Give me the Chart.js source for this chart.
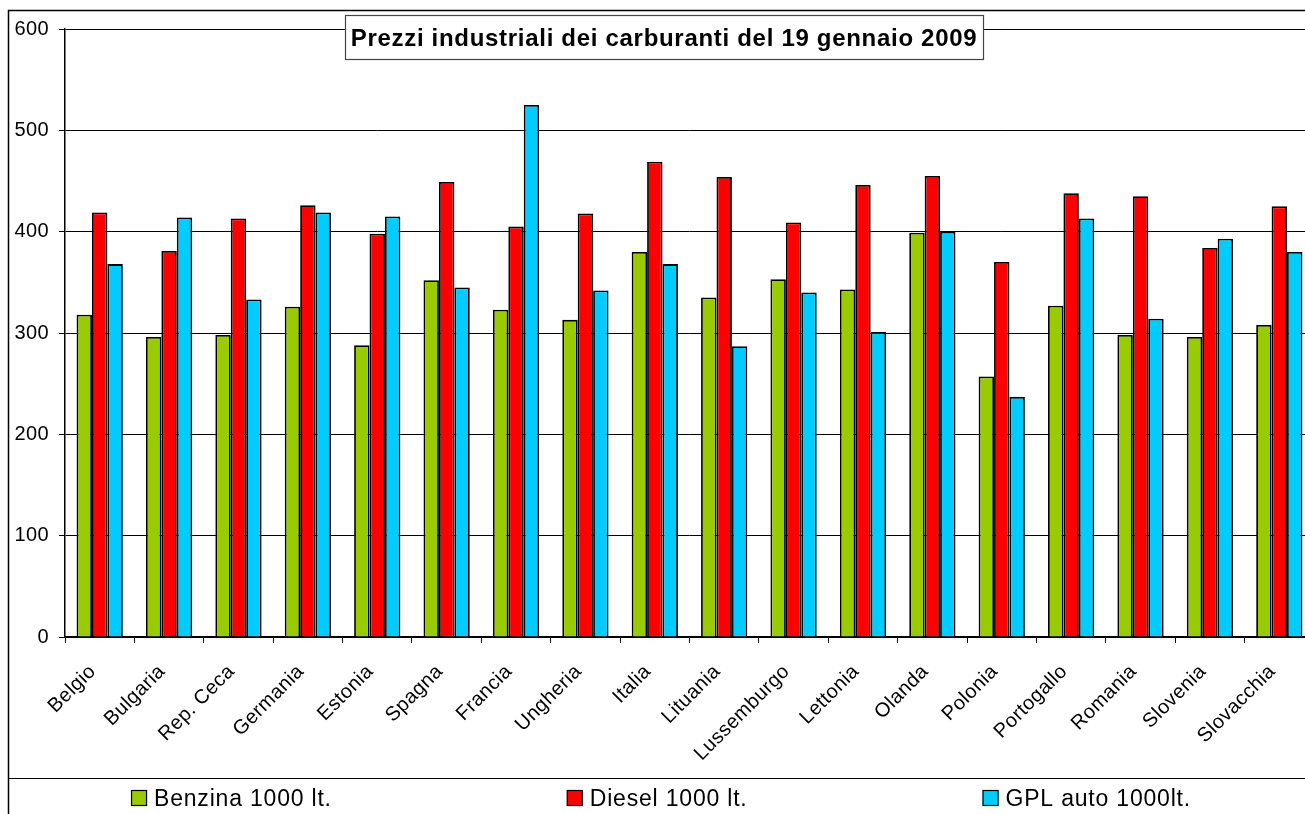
<!DOCTYPE html>
<html>
<head>
<meta charset="utf-8">
<title>Prezzi industriali dei carburanti</title>
<script src="https://cdn.jsdelivr.net/npm/chart.js@4"></script>
<style>
  html, body { margin: 0; padding: 0; background: #fff; overflow: hidden; }
  #chart { position: absolute; left: 0; top: 0; }
</style>
</head>
<body>
<canvas id="chart" width="1320" height="840"></canvas>
<script>
const paesi = ['Belgio', 'Bulgaria', 'Rep. Ceca', 'Germania', 'Estonia', 'Spagna', 'Francia', 'Ungheria', 'Italia',
    'Lituania', 'Lussemburgo', 'Lettonia', 'Olanda', 'Polonia', 'Portogallo', 'Romania', 'Slovenia', 'Slovacchia'];
const benzina = [318, 296, 298, 326, 288, 352, 323, 313, 380, 335, 353, 343, 399, 257, 327, 298, 296, 308];
const diesel = [419, 381, 413, 426, 398, 449, 405, 418, 469, 454, 409, 446, 455, 370, 438, 435, 384, 425];
const gpl = [368, 414, 333, 419, 415, 345, 525, 342, 368, 287, 340, 301, 400, 237, 413, 314, 393, 380];
const yTicks = [0, 100, 200, 300, 400, 500, 600];

const titolo = 'Prezzi industriali dei carburanti del 19 gennaio 2009';
const FONT = "'Liberation Sans', Arial, sans-serif";

// cornice, riquadro del titolo e legenda disegnati a mano
const decorazioni = {
    id: 'decorazioni',
    beforeDraw(chart) {
        chart.ctx.letterSpacing = '0.4px';
    },
    afterDraw(chart) {
        const ctx = chart.ctx;
        ctx.save();

        // cornice esterna
        ctx.strokeStyle = '#000';
        ctx.lineWidth = 1.5;
        ctx.beginPath();
        ctx.moveTo(8.5, 840);
        ctx.lineTo(8.5, 10.5);
        ctx.lineTo(1320, 10.5);
        ctx.stroke();
        ctx.lineWidth = 1;
        ctx.beginPath();
        ctx.moveTo(8, 778.5);
        ctx.lineTo(1320, 778.5);
        ctx.stroke();

        // titolo
        ctx.fillStyle = '#fff';
        ctx.fillRect(345, 15, 638, 44);
        ctx.strokeStyle = '#444';
        ctx.lineWidth = 1.2;
        ctx.strokeRect(345.5, 15.5, 638, 44);
        ctx.fillStyle = '#000';
        ctx.font = 'bold 24px ' + FONT;
        ctx.letterSpacing = '0.7px';
        ctx.textAlign = 'center';
        ctx.textBaseline = 'alphabetic';
        ctx.fillText(titolo, 664, 46);

        // legenda
        ctx.font = '23px ' + FONT;
        ctx.letterSpacing = '0.8px';
        ctx.textAlign = 'left';
        const box = 16, gap = 7, spazio = 235;
        const items = chart.data.datasets.map(ds => ({
            label: ds.label, color: ds.backgroundColor,
            w: box + gap + ctx.measureText(ds.label).width
        }));
        const totale = items.reduce((s, it) => s + it.w, 0) + spazio * (items.length - 1);
        let x = 661 - totale / 2;
        items.forEach(it => {
            ctx.fillStyle = it.color;
            ctx.fillRect(x, 790, box, box);
            ctx.strokeStyle = '#000';
            ctx.lineWidth = 1.2;
            ctx.strokeRect(x + 0.5, 790.5, box - 1, box - 1);
            ctx.fillStyle = '#000';
            ctx.fillText(it.label, x + box + gap, 806);
            x += it.w + spazio;
        });

        ctx.restore();
    }
};

new Chart(document.getElementById('chart'), {
    type: 'bar',
    data: {
        labels: paesi,
        datasets: [
            { label: 'Benzina 1000 lt.', data: benzina, backgroundColor: '#99CC00' },
            { label: 'Diesel 1000 lt.', data: diesel, backgroundColor: '#FF0000' },
            { label: 'GPL auto 1000lt.', data: gpl, backgroundColor: '#00CCFF' }
        ]
    },
    options: {
        responsive: false,
        animation: false,
        layout: { padding: { left: 0, top: 29, right: 6, bottom: 62 } },
        datasets: {
            bar: {
                borderColor: '#000',
                borderWidth: 1.8,
                categoryPercentage: 3 / 4.5,
                barPercentage: 1
            }
        },
        plugins: {
            legend: { display: false },
            title: { display: false },
            tooltip: { enabled: false }
        },
        scales: {
            x: {
                afterFit(scale) { scale.height = 141; },
                grid: { drawOnChartArea: false, color: '#000', tickLength: 6 },
                border: { color: '#000', width: 1.5 },
                ticks: {
                    autoSkip: false,
                    minRotation: 45,
                    maxRotation: 45,
                    padding: 17,
                    labelOffset: -7,
                    color: '#000',
                    font: { family: FONT, size: 20 }
                }
            },
            y: {
                min: 0,
                max: 600,
                afterFit(scale) { scale.width = 65; },
                afterBuildTicks(scale) { scale.ticks = yTicks.map(v => ({ value: v })); },
                grid: { color: '#000', lineWidth: 1, tickLength: 6 },
                border: { color: '#000', width: 1.5 },
                ticks: {
                    padding: 10,
                    color: '#000',
                    font: { family: FONT, size: 20 }
                }
            }
        }
    },
    plugins: [decorazioni]
});
</script>
</body>
</html>
